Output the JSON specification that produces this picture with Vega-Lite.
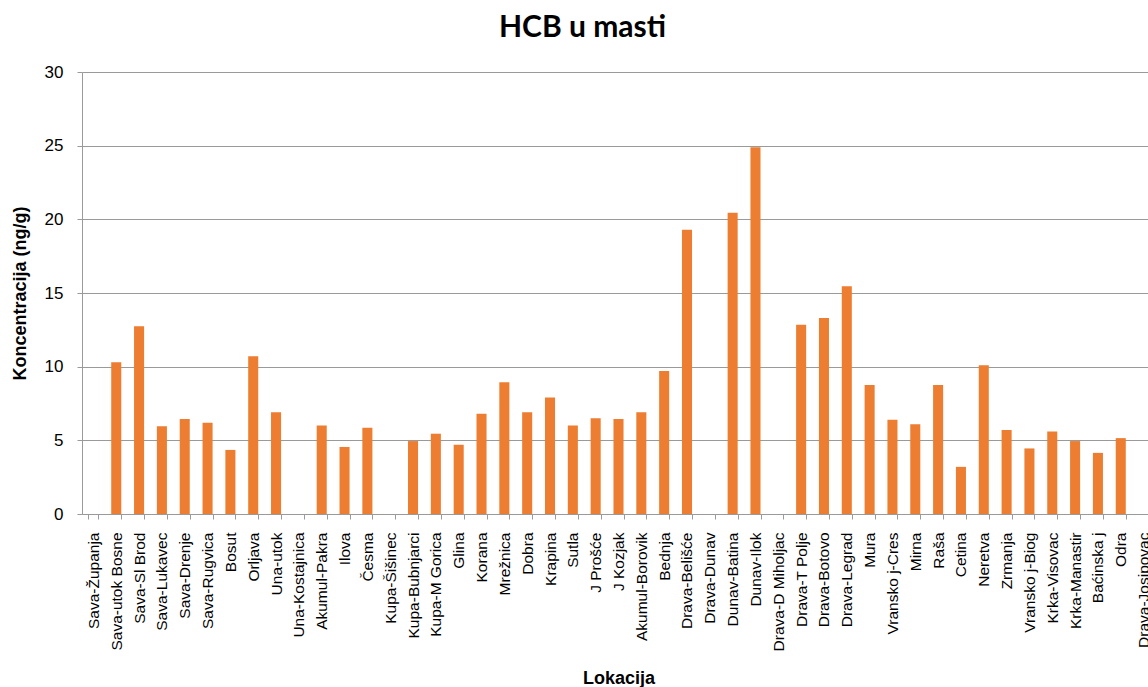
{
  "$schema": "https://vega.github.io/schema/vega-lite/v6.json",
  "autosize": {"type": "none"},
  "padding": {"left": 82, "top": 72, "right": 0, "bottom": 173},
  "width": 1073,
  "height": 442,
  "background": "white",
  "title": {
    "text": "HCB u masti",
    "font": "Lato",
    "fontSize": 30,
    "fontWeight": "bold",
    "color": "#000000",
    "anchor": "middle",
    "dx": -36,
    "offset": 20
  },
  "data": {
    "values": [
      {"lokacija": "Sava-Županja", "hcb": 0},
      {"lokacija": "Sava-utok Bosne", "hcb": 10.3},
      {"lokacija": "Sava-Sl Brod", "hcb": 12.75},
      {"lokacija": "Sava-Lukavec", "hcb": 5.95},
      {"lokacija": "Sava-Drenje", "hcb": 6.45},
      {"lokacija": "Sava-Rugvica", "hcb": 6.2},
      {"lokacija": "Bosut", "hcb": 4.35},
      {"lokacija": "Orljava", "hcb": 10.7},
      {"lokacija": "Una-utok", "hcb": 6.9},
      {"lokacija": "Una-Kostajnica", "hcb": 0},
      {"lokacija": "Akumul-Pakra", "hcb": 6.0},
      {"lokacija": "Ilova", "hcb": 4.55},
      {"lokacija": "Česma", "hcb": 5.85},
      {"lokacija": "Kupa-Šišinec", "hcb": 0},
      {"lokacija": "Kupa-Bubnjarci", "hcb": 4.95},
      {"lokacija": "Kupa-M Gorica", "hcb": 5.45},
      {"lokacija": "Glina", "hcb": 4.7},
      {"lokacija": "Korana", "hcb": 6.8},
      {"lokacija": "Mrežnica", "hcb": 8.95},
      {"lokacija": "Dobra", "hcb": 6.9},
      {"lokacija": "Krapina", "hcb": 7.9},
      {"lokacija": "Sutla", "hcb": 6.0},
      {"lokacija": "J Prošće", "hcb": 6.5},
      {"lokacija": "J Kozjak", "hcb": 6.45},
      {"lokacija": "Akumul-Borovik", "hcb": 6.9},
      {"lokacija": "Bednja", "hcb": 9.7},
      {"lokacija": "Drava-Belišće", "hcb": 19.3},
      {"lokacija": "Drava-Dunav", "hcb": 0},
      {"lokacija": "Dunav-Batina", "hcb": 20.45},
      {"lokacija": "Dunav-Ilok", "hcb": 24.9},
      {"lokacija": "Drava-D Miholjac", "hcb": 0},
      {"lokacija": "Drava-T Polje", "hcb": 12.85},
      {"lokacija": "Drava-Botovo", "hcb": 13.3},
      {"lokacija": "Drava-Legrad", "hcb": 15.45},
      {"lokacija": "Mura", "hcb": 8.75},
      {"lokacija": "Vransko j-Cres", "hcb": 6.4},
      {"lokacija": "Mirna", "hcb": 6.1},
      {"lokacija": "Raša", "hcb": 8.75},
      {"lokacija": "Cetina", "hcb": 3.2},
      {"lokacija": "Neretva", "hcb": 10.1},
      {"lokacija": "Zrmanja", "hcb": 5.7},
      {"lokacija": "Vransko j-Biog", "hcb": 4.45},
      {"lokacija": "Krka-Visovac", "hcb": 5.6},
      {"lokacija": "Krka-Manastir", "hcb": 4.95},
      {"lokacija": "Baćinska j", "hcb": 4.15},
      {"lokacija": "Odra", "hcb": 5.15},
      {"lokacija": "Drava-Josipovac", "hcb": 0}
    ]
  },
  "mark": {"type": "bar", "color": "#ED7D31"},
  "encoding": {
    "x": {
      "field": "lokacija",
      "type": "nominal",
      "sort": null,
      "scale": {"paddingInner": 0.56, "paddingOuter": 0.28},
      "axis": {
        "title": "Lokacija",
        "titleFont": "Liberation Sans",
        "titleFontSize": 18,
        "titleFontWeight": "bold",
        "titleColor": "#000000",
        "titlePadding": 19,
        "labelAngle": 270,
        "labelFont": "Liberation Sans",
        "labelFontSize": 15.5,
        "labelColor": "#000000",
        "labelPadding": 13,
        "labelLimit": 300,
        "tickBand": "extent",
        "tickSize": 5,
        "tickColor": "#9a9a9a",
        "domainColor": "#9a9a9a",
        "grid": false
      }
    },
    "y": {
      "field": "hcb",
      "type": "quantitative",
      "scale": {"domain": [0, 30], "nice": false},
      "axis": {
        "title": "Koncentracija  (ng/g)",
        "titleFont": "Liberation Sans",
        "titleFontSize": 18,
        "titleFontWeight": "bold",
        "titleColor": "#000000",
        "titlePadding": 15,
        "values": [0, 5, 10, 15, 20, 25, 30],
        "labelFont": "Liberation Sans",
        "labelFontSize": 17,
        "labelColor": "#000000",
        "labelPadding": 14,
        "tickSize": 5,
        "tickColor": "#9a9a9a",
        "domainColor": "#9a9a9a",
        "grid": true,
        "gridColor": "#9a9a9a"
      }
    }
  },
  "config": {"view": {"stroke": null}}
}
